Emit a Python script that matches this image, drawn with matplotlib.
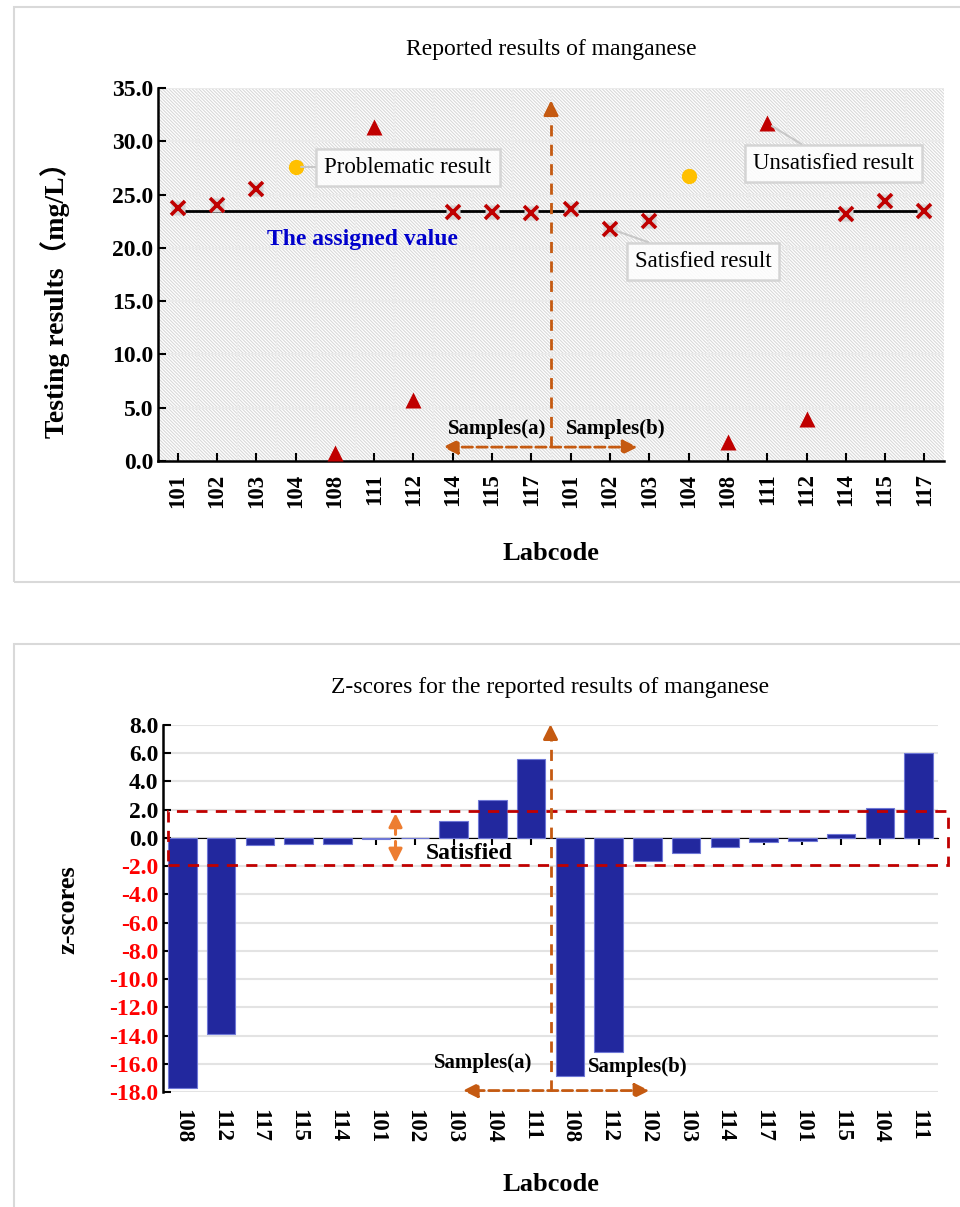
import matplotlib
matplotlib.use('Agg')
import matplotlib.pyplot as plt
import matplotlib.patches as patches
import numpy as np

plt.rcParams['font.family'] = ['Liberation Serif', 'Noto Sans CJK SC']
plt.rcParams['hatch.linewidth'] = 0.8

# ---- data: reported results (top chart)
labcodes = ['101', '102', '103', '104', '108', '111', '112', '114', '115', '117']
results_a = [23.7, 24.0, 25.5, 27.6, 0.7, 31.3, 5.7, 23.4, 23.4, 23.3]
results_b = [23.6, 21.8, 22.5, 26.7, 1.8, 31.7, 3.9, 23.2, 24.4, 23.5]
# S = satisfied, Q = problematic, U = unsatisfied
status_a = ['S', 'S', 'S', 'Q', 'U', 'U', 'U', 'S', 'S', 'S']
status_b = ['S', 'S', 'S', 'Q', 'U', 'U', 'U', 'S', 'S', 'S']
assigned_value = 23.5

# ---- data: z-scores (bottom chart)
z_labels = ['108', '112', '117', '115', '114', '101', '102', '103', '104', '111',
            '108', '112', '102', '103', '114', '117', '101', '115', '104', '111']
z_scores = [-17.7, -13.9, -0.5, -0.45, -0.45, -0.1, 0.0, 1.2, 2.7, 5.6,
            -16.9, -15.2, -1.65, -1.1, -0.65, -0.3, -0.2, 0.3, 2.1, 6.05]

red = '#C00000'
dark_orange = '#C55A11'
light_orange = '#ED7D31'
grid_c = '#e3e3e3'

fig = plt.figure(figsize=(9.6, 12.07), dpi=100)

# panel borders
for y0, y1 in [(0.5178, 0.9942), (-0.01, 0.4664)]:
    fig.add_artist(patches.Rectangle((0.0146, y0), 1.0, y1 - y0, transform=fig.transFigure,
                                     fill=False, edgecolor='#d9d9d9', lw=1.5))

# ================= top chart =================
ax = fig.add_axes([0.1646, 0.6181, 0.8188, 0.3090])
all_labels = labcodes + labcodes
all_vals = results_a + results_b
all_status = status_a + status_b
x = np.arange(len(all_vals))

ax.set_xlim(-0.5, len(all_vals) - 0.5)
ax.set_ylim(0, 35)
ax.add_patch(patches.Rectangle((0, 0), 1, 1, transform=ax.transAxes, facecolor='white',
                               edgecolor='#d9d9d9', hatch='\\' * 10, lw=0, zorder=0))
for v in np.arange(5, 36, 5):
    ax.axhline(v, color='#ebebeb', lw=1.5, zorder=0.5)
for k in np.arange(0.5, len(all_vals) - 0.5, 1):
    ax.axvline(k, color='#ececec', lw=1.0, zorder=0.5)

ax.plot([x[0], x[-1]], [assigned_value, assigned_value], color='black', lw=2, zorder=2)

for xi, v, s in zip(x, all_vals, all_status):
    if s == 'S':
        ax.plot(xi, v, marker='s', ms=10, color='#d4d4d4', mec='none', zorder=3)
        ax.plot(xi, v, marker='x', ms=9.5, mew=2.6, color=red, zorder=4)
    elif s == 'Q':
        ax.plot(xi, v, marker='o', ms=11, color='#FFC000', mec='none', zorder=4)
    else:
        ax.plot(xi, v, marker='^', ms=12, color=red, mec='none', zorder=4)

ax.set_xticks(x)
ax.set_xticklabels(all_labels, rotation=90, fontsize=16.5, fontweight='bold')
ax.set_yticks(np.arange(0, 36, 5))
ax.set_yticklabels(['%.1f' % v for v in np.arange(0, 36, 5)], fontsize=17, fontweight='bold')
ax.tick_params(axis='both', direction='in', length=6, width=1.5, colors='black')
ax.tick_params(axis='x', pad=9)
for side in ['top', 'right']:
    ax.spines[side].set_visible(False)
for side in ['left', 'bottom']:
    ax.spines[side].set_linewidth(1.8)
ax.set_title('Reported results of manganese', fontsize=17, pad=24)
ax.set_ylabel('Testing results（mg/L）', fontsize=20, fontweight='bold')
ax.yaxis.set_label_coords(-0.112, 0.45)
ax.set_xlabel('Labcode', fontsize=19, fontweight='bold', labelpad=25)

ax.text(4.69, 20.8, 'The assigned value', color='#0000CC', fontsize=17, fontweight='bold',
        ha='center', va='center', zorder=5)

box = dict(boxstyle='square,pad=0.35', fc='white', ec='#cfcfcf', lw=1.8, alpha=0.85)
line = dict(arrowstyle='-', color='#c8c8c8', lw=1.5, shrinkA=0, shrinkB=4)
ax.annotate('Problematic result', xy=(3, results_a[3]), xytext=(5.86, 27.5), fontsize=16.5,
            ha='center', va='center', bbox=box, arrowprops=line, zorder=6)
ax.annotate('Unsatisfied result', xy=(15, results_b[5]), xytext=(16.68, 27.9), fontsize=16.5,
            ha='center', va='center', bbox=box, arrowprops=line, zorder=6)
ax.annotate('Satisfied result', xy=(11, results_b[1]), xytext=(13.37, 18.7), fontsize=16.5,
            ha='center', va='center', bbox=box, arrowprops=line, zorder=6)

# samples split arrows
ax.plot([9.5, 9.5], [1.3, 32.8], color=dark_orange, lw=2, ls=(0, (4, 3)), zorder=5)
ax.annotate('', xy=(9.5, 34.1), xytext=(9.5, 32.5),
            arrowprops=dict(arrowstyle='-|>', color=dark_orange, lw=2, mutation_scale=22),
            zorder=5, annotation_clip=False)
ax.annotate('', xy=(6.75, 1.3), xytext=(11.7, 1.3),
            arrowprops=dict(arrowstyle='<|-|>', color=dark_orange, lw=2, ls='--',
                            mutation_scale=22, shrinkA=0, shrinkB=0), zorder=5)
ax.text(8.13, 3.0, 'Samples(a)', fontsize=15, fontweight='bold', ha='center', va='center',
        zorder=6)
ax.text(11.15, 3.0, 'Samples(b)', fontsize=15, fontweight='bold', ha='center', va='center',
        zorder=6)

# ================= bottom chart =================
bx = fig.add_axes([0.1698, 0.0953, 0.8073, 0.3040])
zx = np.arange(len(z_scores))
ymin, ymax = -18, 8
bx.set_xlim(-0.5, len(z_scores) - 0.5)
bx.set_ylim(ymin, ymax)
for v in np.arange(ymin, ymax + 1, 2):
    bx.axhline(v, color=grid_c, lw=1.5, zorder=0)
bx.bar(zx, z_scores, width=0.74, color='#22289E', edgecolor='#6f78d6', lw=0.8, zorder=2)

bx.set_yticks(np.arange(ymin, ymax + 1, 2))
bx.set_yticklabels(['%.1f' % v for v in np.arange(ymin, ymax + 1, 2)], fontsize=17,
                   fontweight='bold')
for t, v in zip(bx.get_yticklabels(), np.arange(ymin, ymax + 1, 2)):
    t.set_color('#FF0000' if v < 0 else 'black')
bx.tick_params(axis='y', direction='in', length=6, width=1.5)
bx.set_xticks(zx)
bx.set_xticklabels(z_labels, rotation=270, fontsize=16.5, fontweight='bold')
bx.tick_params(axis='x', length=0, pad=12)
for side in ['top', 'right', 'bottom']:
    bx.spines[side].set_visible(False)
bx.spines['left'].set_linewidth(1.8)

zero_axis = bx.secondary_xaxis((0 - ymin) / (ymax - ymin))
zero_axis.set_xticks(zx)
zero_axis.set_xticklabels([])
zero_axis.tick_params(direction='in', length=5, width=1.5)
zero_axis.spines['bottom'].set_linewidth(2)

bx.set_title('Z-scores for the reported results of manganese', fontsize=17, pad=23)
bx.set_ylabel('z-scores', fontsize=19, fontweight='bold')
bx.yaxis.set_label_coords(-0.108, 0.496)
bx.set_xlabel('Labcode', fontsize=19, fontweight='bold', labelpad=22)

# satisfied band
bx.add_patch(patches.Rectangle((-0.37, -1.95), 20.13, 3.85, fill=False, edgecolor=red, lw=2,
                               ls=(0, (4, 3)), zorder=4, clip_on=False))
bx.annotate('', xy=(5.5, 1.75), xytext=(5.5, 0.25),
            arrowprops=dict(arrowstyle='-|>', color=light_orange, lw=2.2, mutation_scale=20,
                            shrinkA=0, shrinkB=0), zorder=5)
bx.annotate('', xy=(5.5, -1.75), xytext=(5.5, -0.25),
            arrowprops=dict(arrowstyle='-|>', color=light_orange, lw=2.2, mutation_scale=20,
                            shrinkA=0, shrinkB=0), zorder=5)
bx.text(7.4, -1.1, 'Satisfied', fontsize=17, fontweight='bold', ha='center', va='center',
        zorder=5)

bx.plot([9.5, 9.5], [-17.9, 7.4], color=dark_orange, lw=2, ls=(0, (4, 3)), zorder=5,
        clip_on=False)
bx.annotate('', xy=(9.5, 8.25), xytext=(9.5, 7.2),
            arrowprops=dict(arrowstyle='-|>', color=dark_orange, lw=2, mutation_scale=22),
            zorder=5, annotation_clip=False)
bx.annotate('', xy=(7.24, -17.9), xytext=(12.05, -17.9),
            arrowprops=dict(arrowstyle='<|-|>', color=dark_orange, lw=2, ls='--',
                            mutation_scale=22, shrinkA=0, shrinkB=0), zorder=5)
bx.text(7.76, -15.96, 'Samples(a)', fontsize=15, fontweight='bold', ha='center', va='center',
        zorder=6)
bx.text(11.76, -16.2, 'Samples(b)', fontsize=15, fontweight='bold', ha='center', va='center',
        zorder=6)

fig.savefig('out.png', dpi=100)
